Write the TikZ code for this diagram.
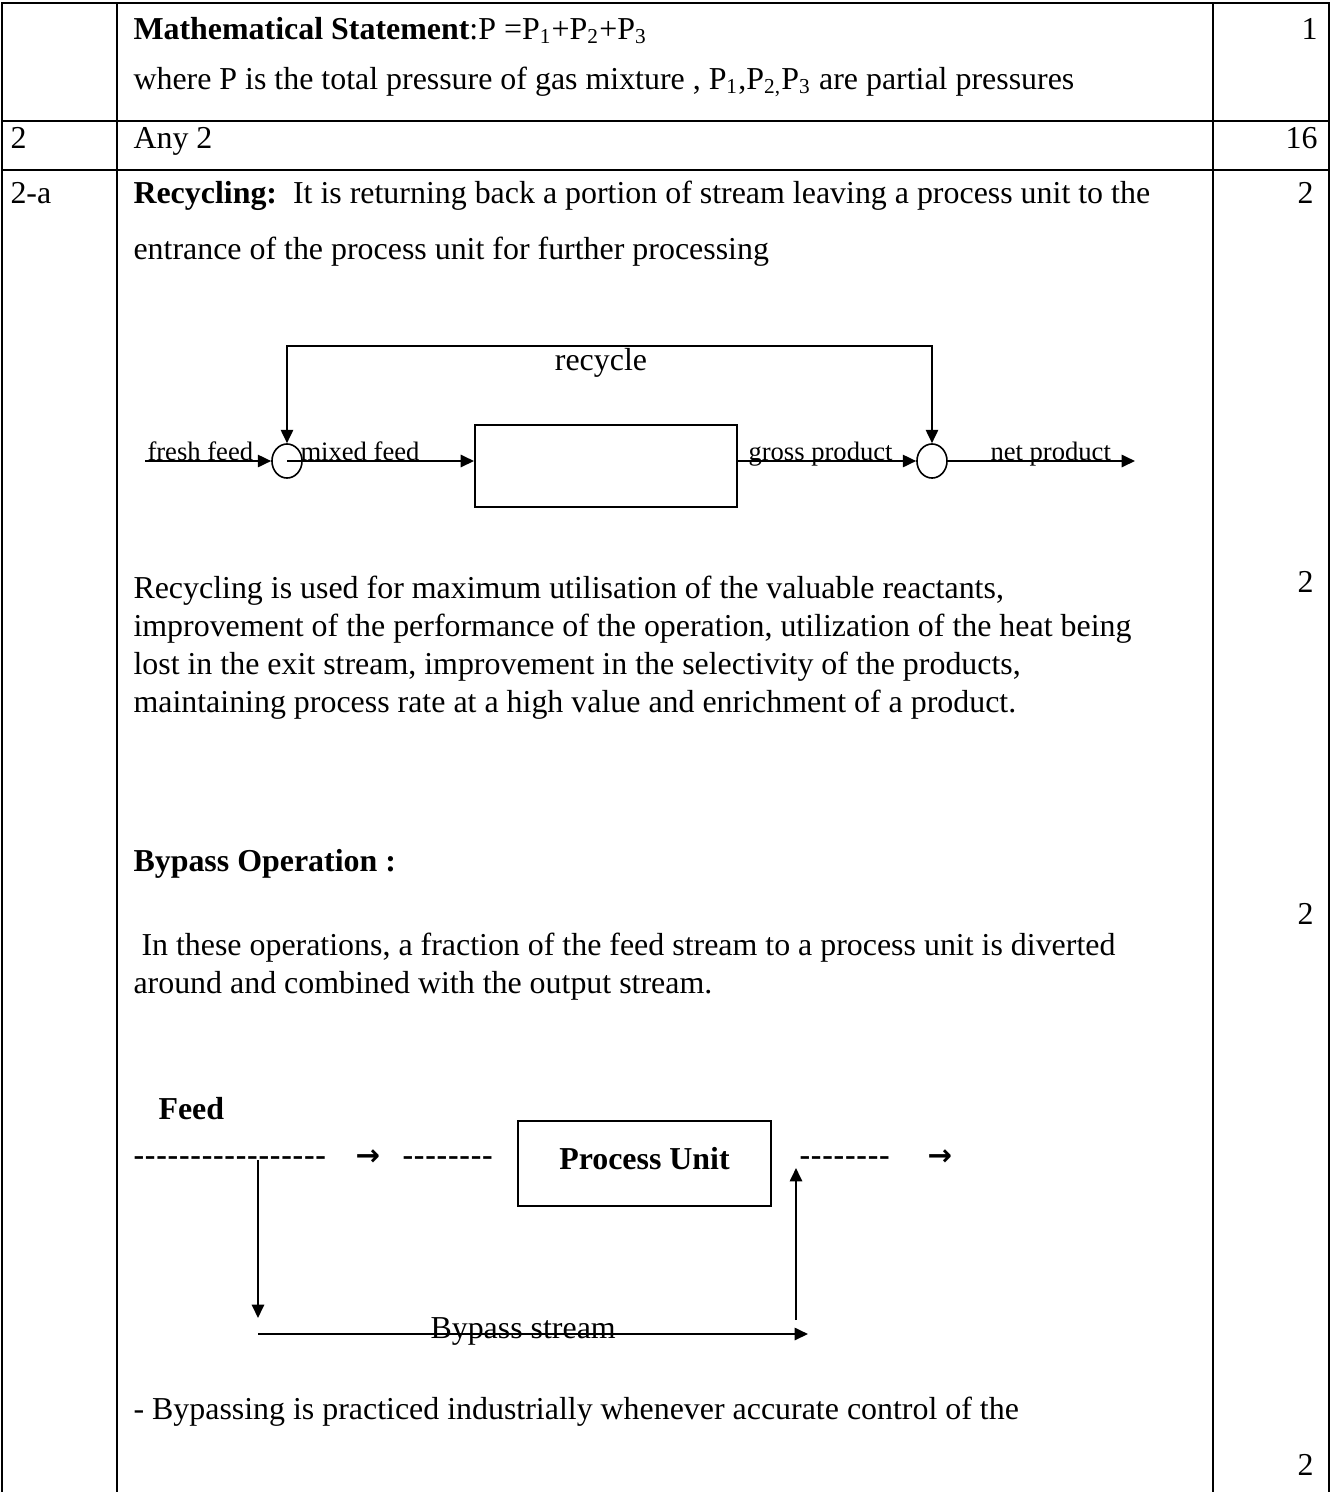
\documentclass[tikz,border=0pt]{standalone}
\usepackage{fontspec}
\setmainfont{Liberation Serif}
\newfontfamily\arrowfont{DejaVu Sans}
\usetikzlibrary{arrows.meta,
                positioning,
                shapes.geometric}
\newcommand\hyphenrun[1]{\foreach\k in {1,...,#1}{-\kern0.28pt}}
\tikzset{
  every node/.style={font=\fontsize{12}{14}\selectfont},
  txt/.style={anchor=base west,inner sep=0pt},
  boldtxt/.style={txt,font=\fontsize{12}{14}\selectfont\bfseries},
  num/.style={anchor=base east,inner sep=0pt},
  lab/.style={anchor=base west,inner sep=0pt,font=\fontsize{10}{12}\selectfont},
  grid/.style={line width=0.8pt},
  flow/.style={line width=0.75pt},
  junction/.style={draw,ellipse,line width=0.6pt,minimum width=11.3pt,minimum height=12.8pt,inner sep=0pt},
  unit/.style={draw,line width=0.75pt,inner sep=0pt},
  wing/.style={anchor=base west,inner sep=0pt,font=\fontsize{11}{13}\selectfont\arrowfont\bfseries},
  >={Triangle[length=5pt,width=4.6pt]}
}
\begin{document}
\begin{tikzpicture}[x=0.376pt,y=-0.376pt]
\useasboundingbox (0,0) rectangle (1331,1492);
\draw[grid] (2,1492) -- (2,3) -- (1329,3) -- (1329,1492);
\draw[grid] (2,121) -- (1329,121) (2,170) -- (1329,170);
\draw[grid] (117,3) -- (117,1492) (1213,3) -- (1213,1492);

\node[txt] (stmt) at (133,39) {\textbf{Mathematical Statement}:P =P\textsubscript{1}+P\textsubscript{2}+P\textsubscript{3}};
\node[txt] (where) at (133,89) {where P is the total pressure of gas mixture , P\textsubscript{1},P\textsubscript{2,}P\textsubscript{3} are partial pressures};
\node[num] (m1) at (1318,39) {1};
\node[txt] (q2) at (10,148) {2};
\node[txt] (any) at (133,148) {Any 2};
\node[num] (m16) at (1318,148) {16};
\node[txt] (q2a) at (10,203) {2-a};
\node[txt] (rdef1) at (133,203) {\textbf{Recycling:}\ \ It is returning back a portion of stream leaving a process unit to the};
\node[txt] (rdef2) at (133,259) {entrance of the process unit for further processing};
\node[num] (m2a) at (1314,203) {2};

\node[junction] (mix) at (287,461) {};
\node[junction] (split) at (932,461) {};
\node[unit,minimum width=98.5pt,minimum height=30.8pt] (reactor) at (606,466) {};
\coordinate (ffin) at (145,461);
\coordinate (npout) at (1135,461);
\coordinate (rtop) at (601,346);
\node[anchor=base,inner sep=0pt] (rlab) at (601,370) {recycle};
\node[lab] (flab) at (147,460) {fresh feed};
\node[lab] (mlab) at (300,460) {mixed feed};
\node[lab] (glab) at (748,460) {gross product};
\node[lab] (nlab) at (990,460) {net product};
\draw[flow,->] (ffin) -- (mix.west);
\draw[flow,->] (mix.center) -- (reactor.west |- mix.center);
\draw[flow,->] (reactor.east |- split.center) -- (split.west);
\draw[flow,->] (split.east) -- (npout);
\draw[flow,<->] (mix.north) |- (rtop) -| (split.north);

\node[txt] (use1) at (133,598) {Recycling is used for maximum utilisation of the valuable reactants,};
\node[txt] (use2) at (133,636) {improvement of the performance of the operation, utilization of the heat being};
\node[txt] (use3) at (133,674) {lost in the exit stream, improvement in the selectivity of the products,};
\node[txt] (use4) at (133,712) {maintaining process rate at a high value and enrichment of a product.};
\node[num] (m2b) at (1314,592) {2};

\node[boldtxt] (bphead) at (133,871) {Bypass Operation :};
\node[txt] (bdef1) at (133,955) {\ In these operations, a fraction of the feed stream to a process unit is diverted};
\node[txt] (bdef2) at (133,993) {around and combined with the output stream.};
\node[num] (m2c) at (1314,924) {2};

\node[boldtxt] (feed) at (158,1119) {Feed};
\node[boldtxt] (dash1) at (133,1165) {\hyphenrun{17}};
\node[wing] (wa) at (355,1165) {→};
\node[boldtxt] (dash2) at (402,1165) {\hyphenrun{8}};
\node[unit,minimum width=95pt,minimum height=32pt,text depth=4pt,font=\fontsize{12}{14}\selectfont\bfseries] (proc) at (644.5,1163.5) {Process Unit};
\node[boldtxt] (dash3) at (799,1165) {\hyphenrun{8}};
\node[wing] (wb) at (927,1165) {→};
\coordinate (bpa) at (258,1160);
\coordinate (bpb) at (258,1318);
\coordinate (bpc) at (258,1334);
\coordinate (bpd) at (808,1334);
\coordinate (bpe) at (796,1320);
\coordinate (bpf) at (796,1168);
\node[txt] (bplab) at (430,1338) {Bypass stream};
\draw[flow,->] (bpa) -- (bpb);
\draw[flow,->] (bpc) -- (bpd);
\draw[flow,->] (bpe) -- (bpf);

\node[txt] (bpuse) at (133,1419) {- Bypassing is practiced industrially whenever accurate control of the};
\node[num] (m2d) at (1314,1475) {2};
\end{tikzpicture}
\end{document}
